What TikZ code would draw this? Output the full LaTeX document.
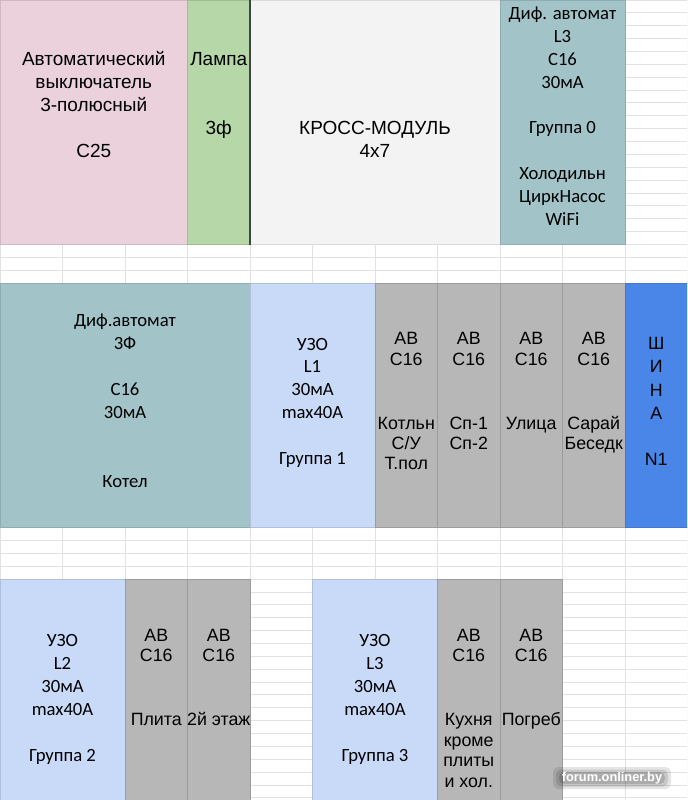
\documentclass[tikz,border=0pt]{standalone}
\usepackage{fontspec}
\setmainfont{Liberation Sans}
\newfontfamily\calibri{Carlito}

\definecolor{pinkcell}{HTML}{EAD1DC}
\definecolor{greencell}{HTML}{B6D7A8}
\definecolor{crosscell}{HTML}{F3F3F3}
\definecolor{tealcell}{HTML}{A2C4C9}
\definecolor{bluecell}{HTML}{C9DAF8}
\definecolor{graycell}{HTML}{B7B7B7}
\definecolor{buscell}{HTML}{4A86E8}
\definecolor{gridcol}{HTML}{E2E2E2}
\definecolor{darkline}{HTML}{434343}

\newcommand{\celltext}[1]{\begin{tabular}[t]{@{}c@{}}#1\end{tabular}}

\tikzset{
    gridline/.style={line width=0.75pt, draw=gridcol},
    cellbox/.style={line width=0.75pt},
    txtbig/.style={anchor=base, inner sep=0pt, font=\fontsize{14.25}{17.3}\selectfont},
    txtcal/.style={anchor=base, inner sep=0pt, font=\calibri\fontsize{14}{17.2}\selectfont},
    txtav/.style={anchor=base, inner sep=0pt, font=\fontsize{13.35}{15.3}\selectfont},
    txtbus/.style={anchor=base, inner sep=0pt, font=\fontsize{13.35}{17.4}\selectfont},
    marktxt/.style={font=\bfseries\fontsize{9.6}{11}\selectfont},
    halo/.style={fill=black, rounded corners=4pt},
}

\begin{document}
\begin{tikzpicture}[x=0.75pt, y=-0.75pt]

            \useasboundingbox (0,0) rectangle (687,800);
            \clip (0,0) rectangle (687,800);
            \fill[white] (0,0) rectangle (687,800);

            % Draw the sheet grid
            \foreach \i in {0,...,11}
                \draw[gridline] (62.5*\i,0) -- (62.5*\i,800);
            \foreach \k in {0,...,62}
                \draw[gridline] (0,12.87*\k) -- (687.5,12.87*\k);

            % Draw cells (top)
            \filldraw[cellbox, fill=pinkcell, draw=pinkcell!88!black] (0,0) rectangle (187.5,244.5);
            \filldraw[cellbox, fill=greencell, draw=greencell!88!black] (187.5,0) rectangle (250,244.5);
            \filldraw[cellbox, fill=crosscell, draw=crosscell!90!black] (250,0) rectangle (500,244.5);
            \filldraw[cellbox, fill=tealcell, draw=tealcell!88!black] (500,0) rectangle (625,244.5);
            \draw[line width=1.5pt, draw=darkline] (250,0) -- (250,244.5);

            % Draw cells (middle)
            \filldraw[cellbox, fill=tealcell, draw=tealcell!88!black] (0,283.1) rectangle (250,527.7);
            \filldraw[cellbox, fill=bluecell, draw=bluecell!88!black] (250,283.1) rectangle (375,527.7);
            \filldraw[cellbox, fill=graycell, draw=graycell!85!black] (375,283.1) rectangle (437.5,527.7);
            \filldraw[cellbox, fill=graycell, draw=graycell!85!black] (437.5,283.1) rectangle (500,527.7);
            \filldraw[cellbox, fill=graycell, draw=graycell!85!black] (500,283.1) rectangle (562.5,527.7);
            \filldraw[cellbox, fill=graycell, draw=graycell!85!black] (562.5,283.1) rectangle (625,527.7);
            \filldraw[cellbox, fill=buscell, draw=buscell!88!black] (625,283.1) rectangle (690,527.7);

            % Draw cells (bottom)
            \filldraw[cellbox, fill=bluecell, draw=bluecell!88!black] (0,579.2) rectangle (125,805);
            \filldraw[cellbox, fill=graycell, draw=graycell!85!black] (125,579.2) rectangle (187.5,805);
            \filldraw[cellbox, fill=graycell, draw=graycell!85!black] (187.5,579.2) rectangle (250,805);
            \filldraw[cellbox, fill=bluecell, draw=bluecell!88!black] (312.5,579.2) rectangle (437.5,805);
            \filldraw[cellbox, fill=graycell, draw=graycell!85!black] (437.5,579.2) rectangle (500,805);
            \filldraw[cellbox, fill=graycell, draw=graycell!85!black] (500,579.2) rectangle (562.5,805);

            % Texts (top)
            \node[txtbig] (breaker) at (93.75,65.1) {\celltext{Автоматический\\выключатель\\3-полюсный\\ \\С25}};
            \node[txtbig] (lamp) at (218.75,65.1) {\celltext{Лампа\\ \\ \\3ф}};
            \node[txtbig] (cross) at (375,134.5) {\celltext{КРОСС-МОДУЛЬ\\4x7}};
            \node[txtcal] (dif0) at (562.5,19.3) {\celltext{Диф. автомат\\L3\\C16\\30мА\\ \\Группа 0\\ \\Холодильн\\ЦиркНасос\\WiFi}};

            % Texts (middle)
            \node[txtcal] (dif3f) at (125,326.7) {\celltext{Диф.автомат\\3Ф\\ \\C16\\30мА\\ \\ \\Котел}};
            \node[txtcal] (uzo1) at (312.5,350) {\celltext{УЗО\\L1\\30мА\\max40A\\ \\Группа 1}};
            \node[txtav] (ab11) at (406.25,344.7) {\celltext{АВ\\С16\\[32.7pt]Котльн\\С/У\\Т.пол}};
            \node[txtav] (ab12) at (468.75,344.7) {\celltext{АВ\\С16\\[32.7pt]Сп-1\\Сп-2}};
            \node[txtav] (ab13) at (531.25,344.7) {\celltext{АВ\\С16\\[32.7pt]Улица}};
            \node[txtav] (ab14) at (593.75,344.7) {\celltext{АВ\\С16\\[32.7pt]Сарай\\Беседк}};
            \node[txtbus] (bus) at (656.25,349.7) {\celltext{Ш\\И\\Н\\А\\ \\N1}};

            % Texts (bottom)
            \node[txtcal] (uzo2) at (62.5,646.7) {\celltext{УЗО\\L2\\30мА\\max40A\\ \\Группа 2}};
            \node[txtav] (ab21) at (156.25,641.4) {\celltext{АВ\\С16\\[32.7pt]Плита}};
            \node[txtav] (ab22) at (218.75,641.4) {\celltext{АВ\\С16\\[32.7pt]2й этаж}};
            \node[txtcal] (uzo3) at (375,646.7) {\celltext{УЗО\\L3\\30мА\\max40A\\ \\Группа 3}};
            \node[txtav] (ab31) at (468.75,641.4) {\celltext{АВ\\С16\\[32.7pt]Кухня\\кроме\\плиты\\и хол.}};
            \node[txtav] (ab32) at (531.25,641.4) {\celltext{АВ\\С16\\[32.7pt]Погреб}};

            % Watermark with a soft dark halo
            \fill[halo, opacity=0.10] (553,767) rectangle (671,789);
            \fill[halo, opacity=0.12] (556,769.5) rectangle (668,786.5);
            \fill[halo, opacity=0.14] (559,772) rectangle (665,784);
            \node[marktxt, text=white] (mark) at (612,778) {forum.onliner.by};

\end{tikzpicture}
\end{document}
